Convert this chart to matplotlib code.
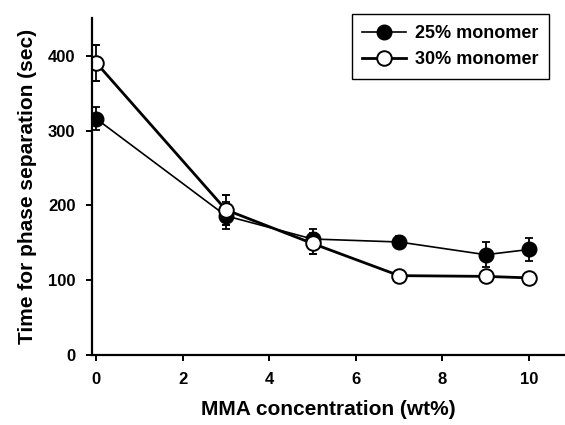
import numpy as np
import matplotlib.pyplot as plt
from matplotlib.lines import Line2D

plt.rcParams['font.family'] = ['Liberation Sans', 'DejaVu Sans']
plt.rcParams['font.weight'] = 'bold'

mma = [0, 3, 5, 7, 9, 10]
mono25 = [316, 186, 155, 151, 134, 141]
mono25_err = [15, 18, 14, 8, 17, 16]
mono30 = [391, 194, 149, 106, 105, 103]
mono30_err = [24, 20, 14, 4, 4, 4]

fig = plt.figure(figsize=(5.65, 4.25), dpi=100)
ax = fig.add_axes([0.163, 0.165, 0.837, 0.7915])

ax.errorbar(mma, mono25, yerr=mono25_err, color='black', lw=1.2,
            marker='o', ms=10.5, mfc='black', mec='black',
            ecolor='black', elinewidth=1.3, capsize=3, capthick=1.3)
ax.errorbar(mma, mono30, yerr=mono30_err, color='black', lw=2,
            marker='o', ms=10.5, mfc='white', mec='black', mew=1.4,
            ecolor='black', elinewidth=1.3, capsize=3, capthick=1.3)

ax.set_xlim(-0.092, 10.83)
ax.set_ylim(0, 450)
ax.set_xticks([0, 2, 4, 6, 8, 10])
ax.set_yticks([0, 100, 200, 300, 400])

for s in ['top', 'right']:
    ax.spines[s].set_visible(False)
for s in ['left', 'bottom']:
    ax.spines[s].set_linewidth(1.6)
ax.tick_params(direction='out', length=4, width=1.4, labelsize=12, pad=8)

ax.set_xlabel('MMA concentration (wt%)', fontsize=15, fontweight='bold', labelpad=10)
ax.set_ylabel('Time for phase separation (sec)', fontsize=15, fontweight='bold', labelpad=8)

handles = [
    Line2D([], [], color='black', lw=1.2, marker='o', ms=10.5,
           mfc='black', mec='black'),
    Line2D([], [], color='black', lw=2, marker='o', ms=10.5,
           mfc='white', mec='black', mew=1.4),
]
leg = ax.legend(handles, ['25% monomer', '30% monomer'],
                loc='upper right', bbox_to_anchor=(0.972, 0.967),
                bbox_transform=fig.transFigure, fontsize=13, fancybox=False,
                edgecolor='black', framealpha=1, handlelength=2.4,
                handletextpad=0.5, borderpad=0.6, labelspacing=0.5,
                borderaxespad=0)
leg.get_frame().set_linewidth(1.0)

fig.savefig('out.png', dpi=100)
